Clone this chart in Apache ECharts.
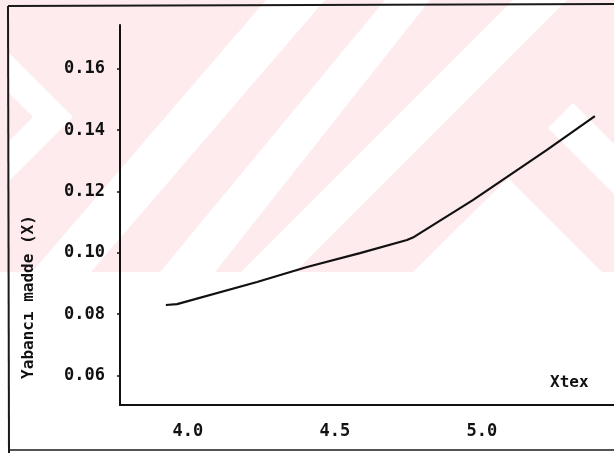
<!DOCTYPE html>
<html>
<head>
<meta charset="utf-8">
<script src="https://cdn.jsdelivr.net/npm/echarts@6/dist/echarts.min.js"></script>
<style>html,body{margin:0;padding:0;background:#fff}#c{width:614px;height:453px}</style>
</head>
<body>
<div id="c"></div>
<script>
// Data
const xValues = [3.925, 3.963, 4.235, 4.405, 4.585, 4.745, 4.769, 4.969, 5.221, 5.384];
const yValues = [0.0830, 0.0833, 0.0905, 0.0954, 0.0999, 0.1042, 0.1052, 0.1172, 0.1336, 0.1446];
const xTicks = [4.0, 4.5, 5.0];
const yTicks = [0.06, 0.08, 0.10, 0.12, 0.14, 0.16];
const xName = 'Xtex';
const yName = 'Yabancı madde (X)';

const chart = echarts.init(document.getElementById('c'));
const pink = '#fdebee';
const mono = '"DejaVu Sans Mono", "Liberation Mono", monospace';
function poly(pts, fill) {
  return { type: 'polygon', z: -10, silent: true, shape: { points: pts }, style: { fill: fill } };
}
function line(x1, y1, x2, y2, w) {
  return { type: 'line', z: 10, silent: true, shape: { x1: x1, y1: y1, x2: x2, y2: y2 }, style: { stroke: '#1a1a1a', lineWidth: w } };
}
chart.setOption({
  animation: false,
  backgroundColor: '#fff',
  graphic: [
    { type: 'rect', z: -11, silent: true, shape: { x: 0, y: 0, width: 614, height: 272 }, style: { fill: pink } },
    poly([[266,0],[325,0],[91,272],[32,272]], '#fff'),
    poly([[385,0],[430,0],[215,272],[160,272]], '#fff'),
    poly([[513,0],[567,0],[295,272],[241,272]], '#fff'),
    poly([[508,178],[602,272],[413,272]], '#fff'),
    poly([[573,103],[614,144],[614,194],[548,128]], '#fff'),
    poly([[8,52],[73,117],[8,182],[8,142],[33,117],[8,92]], '#fff'),
    line(8, 6, 614, 4, 2),
    line(8, 6, 9, 453, 2),
    line(9, 450, 614, 450, 1.5)
  ],
  grid: { left: 120, right: 0, top: 25, bottom: 48, containLabel: false },
  xAxis: {
    type: 'value',
    min: 3.769, max: 5.449,
    name: xName,
    nameLocation: 'end',
    nameGap: -64,
    nameTextStyle: { fontFamily: mono, fontSize: 16, fontWeight: 'bold', color: '#111', verticalAlign: 'bottom', padding: [0, 0, 14, 0] },
    axisLine: { show: true, lineStyle: { color: '#111', width: 2 } },
    axisTick: { show: false },
    splitLine: { show: false },
    axisLabel: {
      customValues: xTicks,
      formatter: v => v.toFixed(1),
      fontFamily: mono, fontSize: 17, fontWeight: 'bold', color: '#111', margin: 18
    }
  },
  yAxis: {
    type: 'value',
    min: 0.0504, max: 0.1743,
    name: yName,
    nameLocation: 'middle',
    nameGap: 83,
    nameRotate: 90,
    nameTextStyle: { fontFamily: mono, fontSize: 16, fontWeight: 'bold', color: '#111', padding: [0, 164, 0, 0] },
    axisLine: { show: true, lineStyle: { color: '#111', width: 2 } },
    axisTick: { show: true, customValues: yTicks, length: 3, lineStyle: { color: '#111', width: 1.5 } },
    splitLine: { show: false },
    axisLabel: {
      customValues: yTicks,
      formatter: v => v.toFixed(2),
      fontFamily: mono, fontSize: 17, fontWeight: 'bold', color: '#111', margin: 15
    }
  },
  series: [{
    type: 'line',
    data: xValues.map((x, i) => [x, yValues[i]]),
    showSymbol: false,
    symbol: 'none',
    lineStyle: { color: '#111', width: 2.2 }
  }]
});
</script>
</body>
</html>
